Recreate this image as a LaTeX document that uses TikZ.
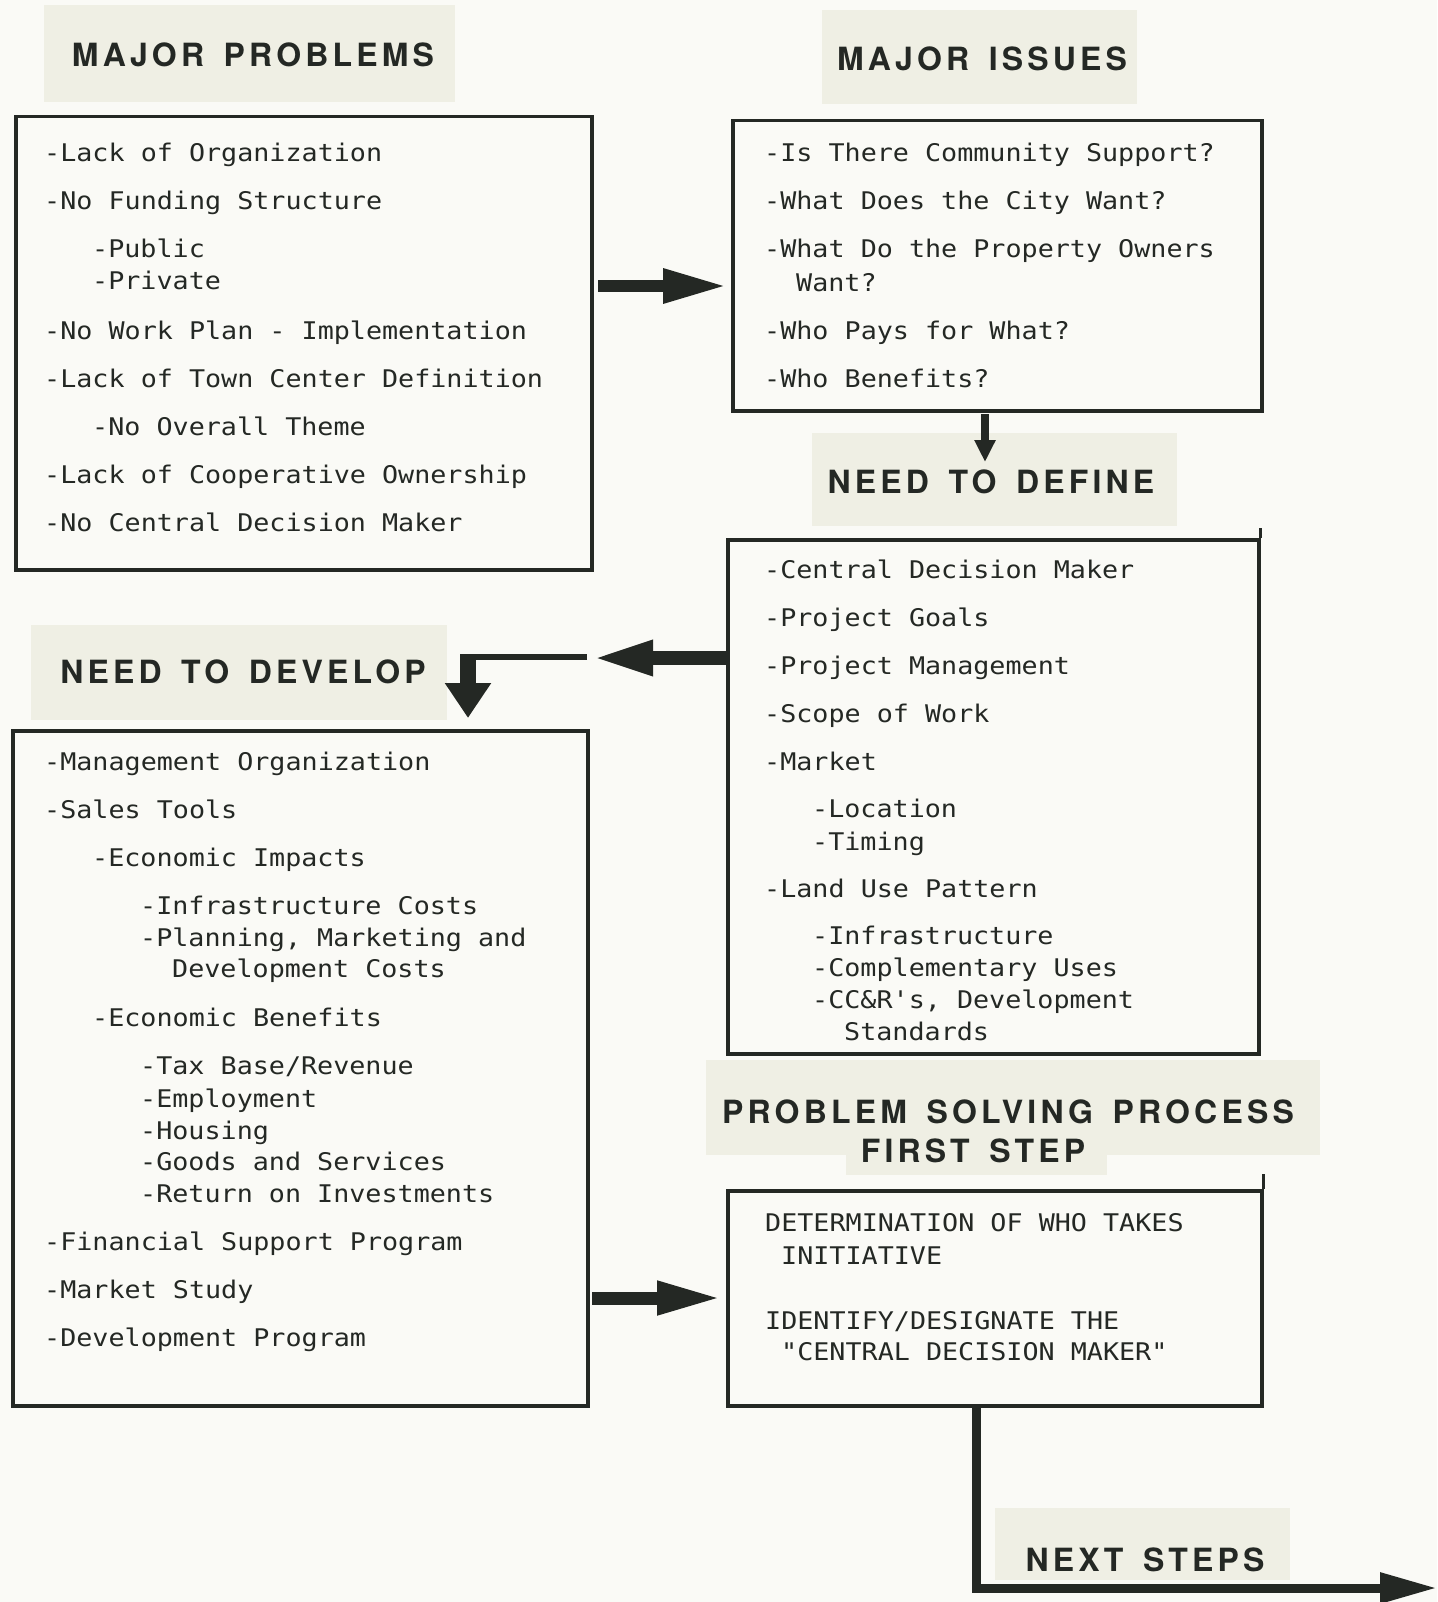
\documentclass[tikz,border=0pt]{standalone}
\usepackage{fontspec}
\usetikzlibrary{arrows.meta}
\newfontfamily\boxfont[FakeStretch=1.1,Ligatures=TeXOff]{DejaVu Sans Mono}
\newfontfamily\titlefont[LetterSpace=13,WordSpace=1.5]{TeX Gyre Heros}
\definecolor{paper}{RGB}{250,250,246}
\definecolor{patchc}{RGB}{239,239,228}
\definecolor{ink}{RGB}{36,40,36}
\tikzset{
  boxframe/.style={draw=ink, line width=3.5pt, inner sep=0pt, anchor=north west},
  bt/.style={font=\boxfont\fontsize{24.3}{29}\selectfont, text=ink, anchor=base west, inner sep=0pt},
  ttl/.style={font=\titlefont\bfseries\fontsize{32}{38}\selectfont, text=ink, anchor=base, inner sep=0pt},
  patch/.style={fill=patchc, draw=none},
  bigarrow/.style={draw=ink, line width=12pt, -{Triangle[length=64pt,width=32pt]}},
}
\begin{document}
\begin{tikzpicture}[x=1pt,y=-1pt]
\useasboundingbox (0,0) rectangle (1437,1602);
\fill[paper] (0,0) rectangle (1437,1602);
% title patches
\fill[patch] (44,5) rectangle (455,102);
\fill[patch] (822,10) rectangle (1137,104);
\fill[patch] (812,433) rectangle (1177,526);
\fill[patch] (31,625) rectangle (447,720);
\fill[patch] (706,1060) rectangle (1320,1155);
\fill[patch] (846,1150) rectangle (1107,1175);
\fill[patch] (995,1508) rectangle (1290,1580);
% titles
\node[ttl] (h1) at (253,66.5) {MAJOR PROBLEMS};
\node[ttl] (h2) at (982,70.5) {MAJOR ISSUES};
\node[ttl] (h3) at (991,493.5) {NEED TO DEFINE};
\node[ttl] (h4) at (243,683.5) {NEED TO DEVELOP};
\node[ttl] (h5a) at (1008,1123.5) {PROBLEM SOLVING PROCESS};
\node[ttl] (h5b) at (973,1162.5) {FIRST STEP};
\node[ttl] (h6) at (1145,1571.5) {NEXT STEPS};
% boxes
\node[boxframe, minimum width=576pt, minimum height=453pt] (b1) at (14,115) {};
\node[boxframe, minimum width=529pt, minimum height=290pt] (b2) at (731,119) {};
\node[boxframe, minimum width=531pt, minimum height=514pt] (b3) at (726,538) {};
\node[boxframe, minimum width=575pt, minimum height=675pt] (b4) at (11,729) {};
\node[boxframe, minimum width=534pt, minimum height=215pt] (b5) at (726,1189) {};
\draw[ink, line width=3.5pt] (b3.north east) -- ++(0,-10);
\draw[ink, line width=3.5pt] (b5.north east) -- ++(0,-15);
% box 1 text
\node[bt] (a1) at (44,162) {-Lack of Organization};
\node[bt] (a2) at (44,210) {-No Funding Structure};
\node[bt] (a3) at (92,258) {-Public};
\node[bt] (a4) at (92,290) {-Private};
\node[bt] (a5) at (44,339) {-No Work Plan - Implementation};
\node[bt] (a6) at (44,387) {-Lack of Town Center Definition};
\node[bt] (a7) at (92,435) {-No Overall Theme};
\node[bt] (a8) at (44,483) {-Lack of Cooperative Ownership};
\node[bt] (a9) at (44,531) {-No Central Decision Maker};
% box 2 text
\node[bt] (i1) at (764,162) {-Is There Community Support?};
\node[bt] (i2) at (764,210) {-What Does the City Want?};
\node[bt] (i3) at (764,258) {-What Do the Property Owners};
\node[bt] (i4) at (796,291) {Want?};
\node[bt] (i5) at (764,339) {-Who Pays for What?};
\node[bt] (i6) at (764,387) {-Who Benefits?};
% box 3 text
\node[bt] (d1) at (764,578) {-Central Decision Maker};
\node[bt] (d2) at (764,626) {-Project Goals};
\node[bt] (d3) at (764,674) {-Project Management};
\node[bt] (d4) at (764,722) {-Scope of Work};
\node[bt] (d5) at (764,770) {-Market};
\node[bt] (d6) at (812,817) {-Location};
\node[bt] (d7) at (812,850) {-Timing};
\node[bt] (d8) at (764,897) {-Land Use Pattern};
\node[bt] (d9) at (812,944) {-Infrastructure};
\node[bt] (d10) at (812,976) {-Complementary Uses};
\node[bt] (d11) at (812,1008) {-CC\&R's, Development};
\node[bt] (d12) at (844,1040) {Standards};
% box 4 text
\node[bt] (e1) at (44,770) {-Management Organization};
\node[bt] (e2) at (44,818) {-Sales Tools};
\node[bt] (e3) at (92,866) {-Economic Impacts};
\node[bt] (e4) at (140,914) {-Infrastructure Costs};
\node[bt] (e5) at (140,946) {-Planning, Marketing and};
\node[bt] (e6) at (172,977) {Development Costs};
\node[bt] (e7) at (92,1026) {-Economic Benefits};
\node[bt] (e8) at (140,1074) {-Tax Base/Revenue};
\node[bt] (e9) at (140,1107) {-Employment};
\node[bt] (e10) at (140,1139) {-Housing};
\node[bt] (e11) at (140,1170) {-Goods and Services};
\node[bt] (e12) at (140,1202) {-Return on Investments};
\node[bt] (e13) at (44,1250) {-Financial Support Program};
\node[bt] (e14) at (44,1298) {-Market Study};
\node[bt] (e15) at (44,1346) {-Development Program};
% box 5 text
\node[bt] (f1) at (765,1231) {DETERMINATION OF WHO TAKES};
\node[bt] (f2) at (781,1264) {INITIATIVE};
\node[bt] (f3) at (765,1329) {IDENTIFY/DESIGNATE THE};
\node[bt] (f4) at (781,1360) {"CENTRAL DECISION MAKER"};
% connectors
\coordinate (s1) at (598,286);
\coordinate (s1e) at (727,286);
\draw[bigarrow] (s1) -- (s1e);
\coordinate (s2) at (985,414);
\coordinate (s2e) at (985,462);
\draw[draw=ink, line width=8pt, -{Triangle[length=22pt,width=20pt]}] (s2) -- (s2e);
\coordinate (s3) at (b3.west |- 0,658);
\coordinate (s3e) at (592,658);
\draw[draw=ink, line width=14pt, -{Triangle[length=61pt,width=32pt]}] (s3) -- (s3e);
\coordinate (s4) at (587,657);
\coordinate (s4c) at (460,657);
\draw[ink, line width=6pt] (s4) -- (s4c);
\coordinate (s5) at (468,654);
\coordinate (s5e) at (468,718);
\draw[draw=ink, line width=16pt, -{Triangle[length=35pt,width=44pt]}] (s5) -- (s5e);
\coordinate (s6) at (592,1298);
\coordinate (s6e) at (722,1298);
\draw[draw=ink, line width=13pt, -{Triangle[length=65pt,width=31pt]}] (s6) -- (s6e);
\coordinate (s7) at (976,1404);
\coordinate (s7e) at (1437,1588);
\draw[draw=ink, line width=9pt, line join=miter, -{Triangle[length=57pt,width=29pt]}] (s7) |- (s7e);
\end{tikzpicture}
\end{document}
